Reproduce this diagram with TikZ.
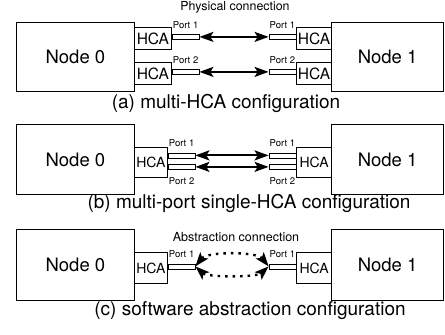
\documentclass[tikz,border=0pt]{standalone}
\usepackage{fontspec}
\setmainfont{TeX Gyre Heros}
\usetikzlibrary{arrows.meta}
\begin{document}
\begin{tikzpicture}[x=1pt,y=-1pt,>={Stealth[length=14pt,width=10pt,inset=3pt]},
  host/.style={draw,line width=0.8pt,inner sep=0pt,font=\fontsize{18.5}{20}\selectfont},
  hca/.style={draw,line width=0.8pt,inner sep=0pt,font=\fontsize{15.5}{16}\selectfont},
  port/.style={draw,line width=0.6pt,inner sep=0pt,minimum width=27pt,minimum height=5pt},
  plab/.style={inner sep=0pt,font=\fontsize{9.5}{10}\selectfont},
  link/.style={line width=2pt,<->},
  abst/.style={line width=2.4pt,dash pattern=on 2.5pt off 5pt,<->},
  capt/.style={font=\fontsize{19}{21}\selectfont}]
\useasboundingbox (0,0) rectangle (445,335);
% (a) multi-HCA
\node[font=\fontsize{12.4}{14}\selectfont] (pha) at (235,7.5) {Physical connection};
\node[host,anchor=north west,minimum width=118pt,minimum height=69pt] (n0a) at (16,22) {Node 0};
\node[host,anchor=north east,minimum width=112pt,minimum height=69pt] (n1a) at (444,22) {Node 1};
\foreach \i/\y in {1/27,2/62} {
  \node[hca,anchor=north west,minimum width=37pt,minimum height=22pt] (h0a\i) at (134,\y) {HCA};
  \node[hca,anchor=north east,minimum width=35pt,minimum height=22pt] (h1a\i) at (332,\y) {HCA};
  \node[port,anchor=west] (p0a\i) at ([yshift=1.5pt]h0a\i.east) {};
  \node[port,anchor=east] (p1a\i) at ([yshift=1.5pt]h1a\i.west) {};
  \node[plab,above=5.5pt] (l0a\i) at (p0a\i.north) {Port \i};
  \node[plab,above=5.5pt] (l1a\i) at (p1a\i.north) {Port \i};
  \draw[link] (p0a\i) -- (p1a\i);
}
% (b) multi-port single-HCA
\node[host,anchor=north west,minimum width=118pt,minimum height=70pt] (n0b) at (16,124) {Node 0};
\node[host,anchor=north east,minimum width=112pt,minimum height=70pt] (n1b) at (444,124) {Node 1};
\node[hca,anchor=north west,minimum width=33pt,minimum height=30pt,font=\fontsize{14}{15}\selectfont] (h0b) at (134,147) {HCA};
\node[hca,anchor=north east,minimum width=35pt,minimum height=30pt,font=\fontsize{14}{15}\selectfont] (h1b) at (332,147) {HCA};
\foreach \i/\s in {1/7pt,2/-4.5pt} {
  \node[port,anchor=west] (p0b\i) at ([yshift=\s]h0b.east) {};
  \node[port,anchor=east] (p1b\i) at ([yshift=\s]h1b.west) {};
  \draw[link] (p0b\i) -- (p1b\i);
}
\node[plab,above=6pt] (l0b1) at (p0b1.north) {Port 1};
\node[plab,above=6pt] (l1b1) at (p1b1.north) {Port 1};
\node[plab,below=8pt] (l0b2) at (p0b2.south) {Port 2};
\node[plab,below=8pt] (l1b2) at (p1b2.south) {Port 2};
% (c) software abstraction
\node[font=\fontsize{12.5}{14}\selectfont] (abc) at (236,237.5) {Abstraction connection};
\node[host,anchor=north west,minimum width=118pt,minimum height=71pt] (n0c) at (16,229) {Node 0};
\node[host,anchor=north east,minimum width=112pt,minimum height=71pt] (n1c) at (444,229) {Node 1};
\node[hca,anchor=north west,minimum width=33pt,minimum height=31pt,font=\fontsize{14}{15}\selectfont] (h0c) at (134,252) {HCA};
\node[hca,anchor=north east,minimum width=35pt,minimum height=31pt,font=\fontsize{14}{15}\selectfont] (h1c) at (332,252) {HCA};
\node[port,anchor=west] (p0c) at ([yshift=1.5pt]h0c.east) {};
\node[port,anchor=east] (p1c) at ([yshift=1.5pt]h1c.west) {};
\node[plab,above=5.5pt] (l0c) at (p0c.north) {Port 1};
\node[plab,above=5.5pt] (l1c) at (p1c.north) {Port 1};
\draw[abst] (p0c.east) .. controls +(12,-15) and +(-12,-15) .. (p1c.west);
\draw[abst] (p0c.east) .. controls +(12,11) and +(-12,11) .. (p1c.west);
% captions
\foreach \k/\x/\y/\lab in {a/226/103/{(a) multi-HCA configuration},b/249/203/{(b) multi-port single-HCA configuration},c/250/311/{(c) software abstraction configuration}}
  \node[capt] (cap\k) at (\x,\y) {\lab};
\end{tikzpicture}
\end{document}
